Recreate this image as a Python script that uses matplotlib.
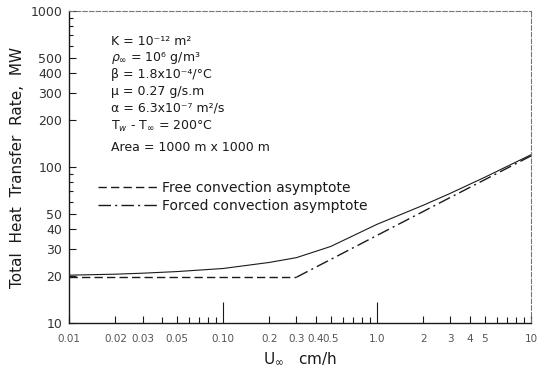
import matplotlib
matplotlib.use("Agg")
import matplotlib.pyplot as plt
from matplotlib.ticker import FixedLocator, NullFormatter

# ==== data ====
free_x = [0.01, 0.3]
free_y = [19.7, 19.7]

forced_x = [0.3, 1.0, 3.0, 10.0]
forced_y = [19.7, 36.5, 64.0, 118.0]

total_x = [0.01, 0.02, 0.03, 0.05, 0.1, 0.2, 0.3, 0.5, 1.0, 2.0, 3.0, 5.0, 10.0]
total_y = [20.3, 20.6, 20.9, 21.4, 22.4, 24.5, 26.3, 31.0, 43.0, 57.0, 68.0, 86.0, 120.0]

x_ticks = [0.01, 0.02, 0.03, 0.05, 0.1, 0.2, 0.3, 0.4, 0.5, 1.0, 2, 3, 4, 5, 10]
x_labels = ["0.01", "0.02", "0.03", "0.05", "0.10", "0.2", "0.3", "0.4", "0.5", "1.0", "2", "3", "4", "5", "10"]
y_ticks = [10, 20, 30, 40, 50, 100, 200, 300, 400, 500, 1000]
y_minor = [60, 70, 80, 90, 600, 700, 800, 900]
x_minor = [0.04, 0.06, 0.07, 0.08, 0.09, 0.6, 0.7, 0.8, 0.9, 6, 7, 8, 9]

params = [
    "K = 10⁻¹² m²",
    r"$\rho_\infty$ = 10⁶ g/m³",
    "β = 1.8x10⁻⁴/°C",
    "μ = 0.27 g/s.m",
    "α = 6.3x10⁻⁷ m²/s",
    r"T$_w$ - T$_\infty$ = 200°C",
    "Area = 1000 m x 1000 m",
]
param_y = [0.902, 0.849, 0.796, 0.743, 0.689, 0.631, 0.564]

plt.rcParams["font.family"] = "DejaVu Sans"
plt.rcParams["mathtext.fontset"] = "dejavusans"
INK = "#1a1a1a"

fig = plt.figure(figsize=(5.44, 3.71), dpi=100)
ax = fig.add_axes([0.127, 0.129, 0.849, 0.841])
ax.set_xscale("log")
ax.set_yscale("log")
ax.set_xlim(0.01, 10)
ax.set_ylim(10, 1000)

ax.plot(free_x, free_y, color=INK, lw=1.0, dashes=(6, 3), label="Free convection asymptote")
ax.plot(forced_x, forced_y, color=INK, lw=1.0, dashes=(9, 3, 1.5, 3), label="Forced convection asymptote")
ax.plot(total_x, total_y, color=INK, lw=0.8)

# ticks
ax.xaxis.set_major_locator(FixedLocator(x_ticks))
ax.set_xticklabels(x_labels)
ax.xaxis.set_minor_locator(FixedLocator(x_minor))
ax.xaxis.set_minor_formatter(NullFormatter())
ax.yaxis.set_major_locator(FixedLocator(y_ticks))
ax.set_yticklabels([str(v) for v in y_ticks])
ax.yaxis.set_minor_locator(FixedLocator(y_minor))
ax.yaxis.set_minor_formatter(NullFormatter())
ax.tick_params(which="both", direction="in", top=False, right=False, color=INK, width=0.8)
ax.tick_params(axis="x", which="major", length=5, labelsize=7.5, labelcolor="#555555", pad=8)
ax.tick_params(axis="x", which="minor", length=4)
ax.tick_params(axis="y", which="major", length=5, labelsize=9, labelcolor="#333333", pad=5)
ax.tick_params(axis="y", which="minor", length=3)
for t, v in zip(ax.xaxis.get_major_ticks(), x_ticks):
    if v in (0.1, 1.0):
        t.tick1line.set_markersize(15)

for side in ("left", "bottom"):
    ax.spines[side].set_color(INK)
    ax.spines[side].set_linewidth(1.0)
for side in ("top", "right"):
    ax.spines[side].set_color("#777777")
    ax.spines[side].set_linewidth(0.8)
    ax.spines[side].set_linestyle((0, (4, 2)))

ax.set_ylabel("Total  Heat  Transfer  Rate,  MW", fontsize=11, color=INK, labelpad=4)
ax.set_xlabel(r"U$_\infty$   cm/h", fontsize=11, color=INK, labelpad=5)

for txt, yy in zip(params, param_y):
    ax.text(0.091, yy, txt, transform=ax.transAxes, fontsize=9, color=INK, va="center")

ax.legend(loc="upper left", bbox_to_anchor=(0.035, 0.495), frameon=False, handlelength=4.3,
          fontsize=10, labelspacing=0.25, handletextpad=0.3, labelcolor=INK)

fig.savefig("out.png", dpi=100)
